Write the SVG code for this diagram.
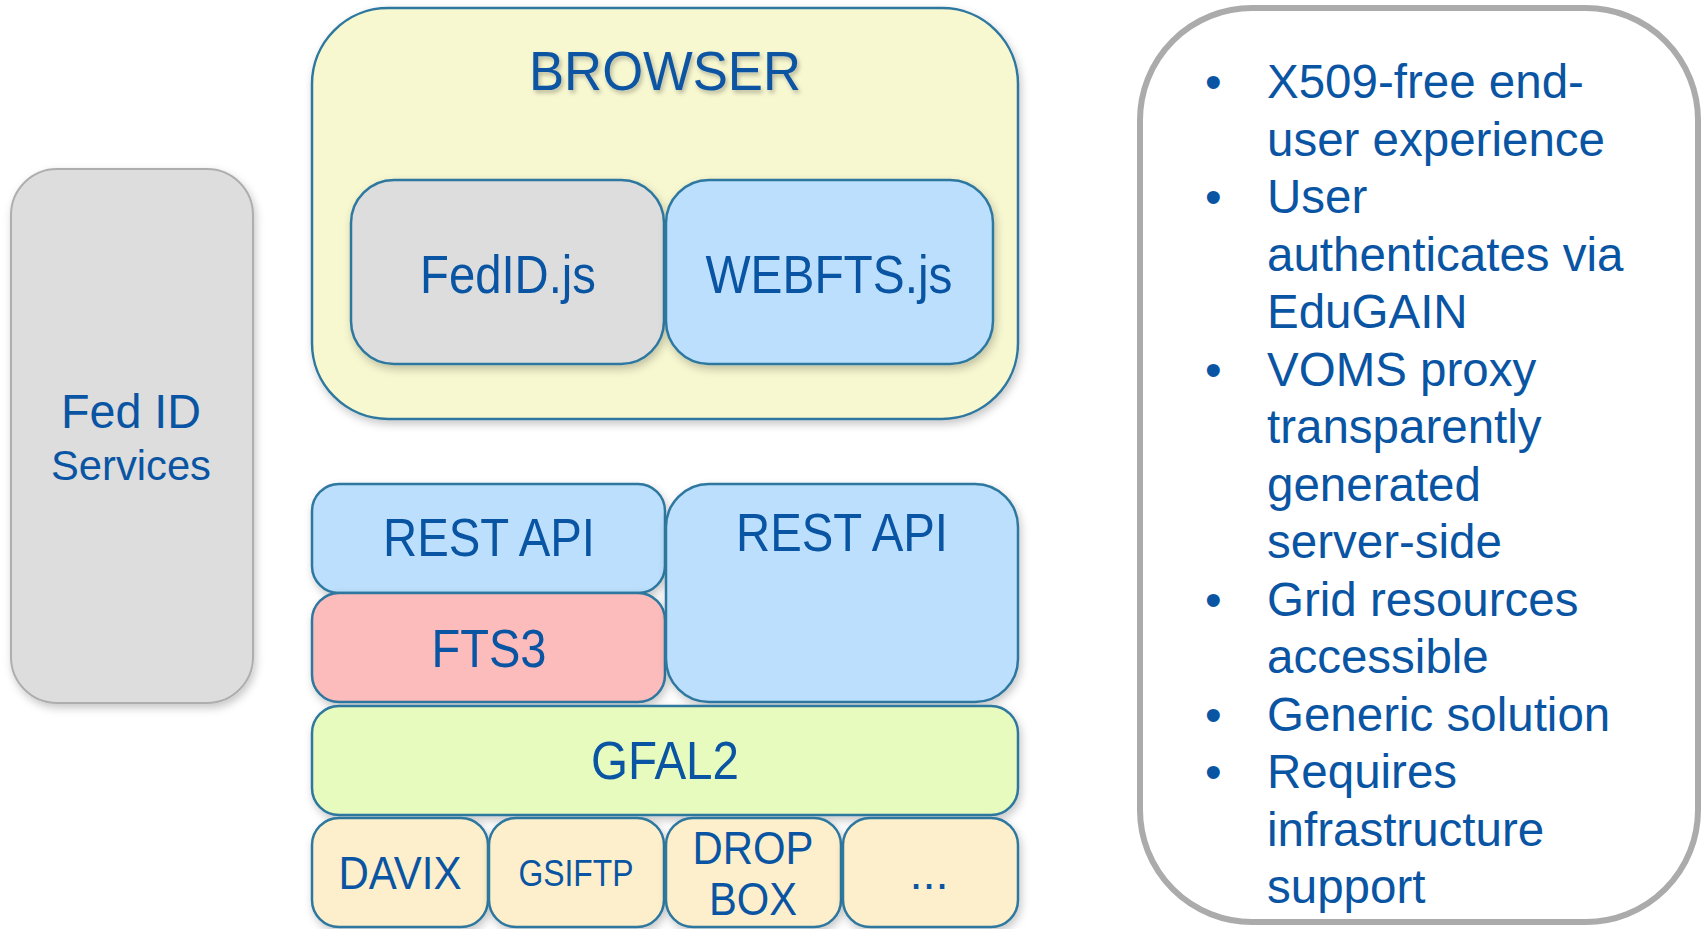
<svg xmlns="http://www.w3.org/2000/svg" width="1704" height="929" viewBox="0 0 1704 929">
<style>
.t{font-family:"Liberation Sans",Arial,sans-serif;fill:#0a55a3;text-anchor:middle}
.r{font-family:"Liberation Sans",Arial,sans-serif;fill:#0a55a3;font-size:47.5px}
.box{stroke:#2e78a0;stroke-width:2.5}
</style>
<defs>
<filter id="sh" x="-10%" y="-10%" width="125%" height="130%">
<feDropShadow dx="2" dy="4" stdDeviation="4" flood-color="#000" flood-opacity="0.22"/>
</filter>
<filter id="tsh" x="-10%" y="-20%" width="125%" height="150%">
<feDropShadow dx="2" dy="3" stdDeviation="2" flood-color="#000" flood-opacity="0.25"/>
</filter>
</defs>
<g id="fedid-services">
<rect x="11" y="169" width="242" height="534" rx="46" fill="#dddddd" stroke="#aeaeae" stroke-width="2" filter="url(#sh)"/>
<text class="t" x="131" y="428" font-size="48" textLength="140" lengthAdjust="spacingAndGlyphs">Fed ID</text>
<text class="t" x="131" y="480" font-size="42" textLength="160" lengthAdjust="spacingAndGlyphs">Services</text>
</g>
<g id="browser">
<rect class="box" x="312" y="8" width="706" height="411" rx="76" fill="#f7f7d0" filter="url(#sh)"/>
<text class="t" x="665" y="90" font-size="56" textLength="272" lengthAdjust="spacingAndGlyphs" filter="url(#tsh)">BROWSER</text>
</g>
<g id="fedid-js">
<rect class="box" x="351" y="180" width="313" height="184" rx="43" fill="#dddddd" filter="url(#sh)"/>
<text class="t" x="508" y="293" font-size="53" textLength="176" lengthAdjust="spacingAndGlyphs">FedID.js</text>
</g>
<g id="webfts-js">
<rect class="box" x="666" y="180" width="327" height="184" rx="43" fill="#bbdffc" filter="url(#sh)"/>
<text class="t" x="829" y="293" font-size="53" textLength="247" lengthAdjust="spacingAndGlyphs">WEBFTS.js</text>
</g>
<g id="rest-api-fts">
<rect class="box" x="312" y="484" width="353" height="109" rx="27" fill="#bbdffc" filter="url(#sh)"/>
<text class="t" x="489" y="556" font-size="53" textLength="212" lengthAdjust="spacingAndGlyphs">REST API</text>
</g>
<g id="fts3">
<rect class="box" x="312" y="593" width="353" height="109" rx="27" fill="#fcbcbc" filter="url(#sh)"/>
<text class="t" x="489" y="667" font-size="53" textLength="115" lengthAdjust="spacingAndGlyphs">FTS3</text>
</g>
<g id="rest-api-web">
<rect class="box" x="666" y="484" width="352" height="218" rx="43" fill="#bbdffc" filter="url(#sh)"/>
<text class="t" x="842" y="551" font-size="53" textLength="212" lengthAdjust="spacingAndGlyphs">REST API</text>
</g>
<g id="gfal2">
<rect class="box" x="312" y="706" width="706" height="109" rx="27" fill="#e6fbbd" filter="url(#sh)"/>
<text class="t" x="665" y="779" font-size="53" textLength="148" lengthAdjust="spacingAndGlyphs">GFAL2</text>
</g>
<g id="davix">
<rect class="box" x="312" y="818" width="176" height="109" rx="27" fill="#fdefcb" filter="url(#sh)"/>
<text class="t" x="400" y="889" font-size="47" textLength="123" lengthAdjust="spacingAndGlyphs">DAVIX</text>
</g>
<g id="gsiftp">
<rect class="box" x="489" y="818" width="175" height="109" rx="27" fill="#fdefcb" filter="url(#sh)"/>
<text class="t" x="576" y="886" font-size="36" textLength="115" lengthAdjust="spacingAndGlyphs">GSIFTP</text>
</g>
<g id="dropbox">
<rect class="box" x="666" y="818" width="175" height="109" rx="27" fill="#fdefcb" filter="url(#sh)"/>
<text class="t" x="753" y="864" font-size="47" textLength="121" lengthAdjust="spacingAndGlyphs">DROP</text>
<text class="t" x="753" y="915" font-size="47" textLength="88" lengthAdjust="spacingAndGlyphs">BOX</text>
</g>
<g id="more">
<rect class="box" x="843" y="818" width="175" height="109" rx="27" fill="#fdefcb" filter="url(#sh)"/>
<text class="t" x="929" y="889" font-size="47">...</text>
</g>
<g id="features">
<rect x="1140" y="8" width="558" height="914" rx="112" fill="#ffffff" stroke="#ababab" stroke-width="6"/>
<g class="r">
<text x="1205" y="98">•</text>
<text x="1267" y="98">X509-free end-</text>
<text x="1267" y="155.5">user experience</text>
<text x="1205" y="213">•</text>
<text x="1267" y="213">User</text>
<text x="1267" y="270.5">authenticates via</text>
<text x="1267" y="328">EduGAIN</text>
<text x="1205" y="385.5">•</text>
<text x="1267" y="385.5">VOMS proxy</text>
<text x="1267" y="443">transparently</text>
<text x="1267" y="500.5">generated</text>
<text x="1267" y="558">server-side</text>
<text x="1205" y="615.5">•</text>
<text x="1267" y="615.5">Grid resources</text>
<text x="1267" y="673">accessible</text>
<text x="1205" y="730.5">•</text>
<text x="1267" y="730.5">Generic solution</text>
<text x="1205" y="788">•</text>
<text x="1267" y="788">Requires</text>
<text x="1267" y="845.5">infrastructure</text>
<text x="1267" y="903">support</text>
</g>
</g>
<g id="connectors"></g>
</svg>
